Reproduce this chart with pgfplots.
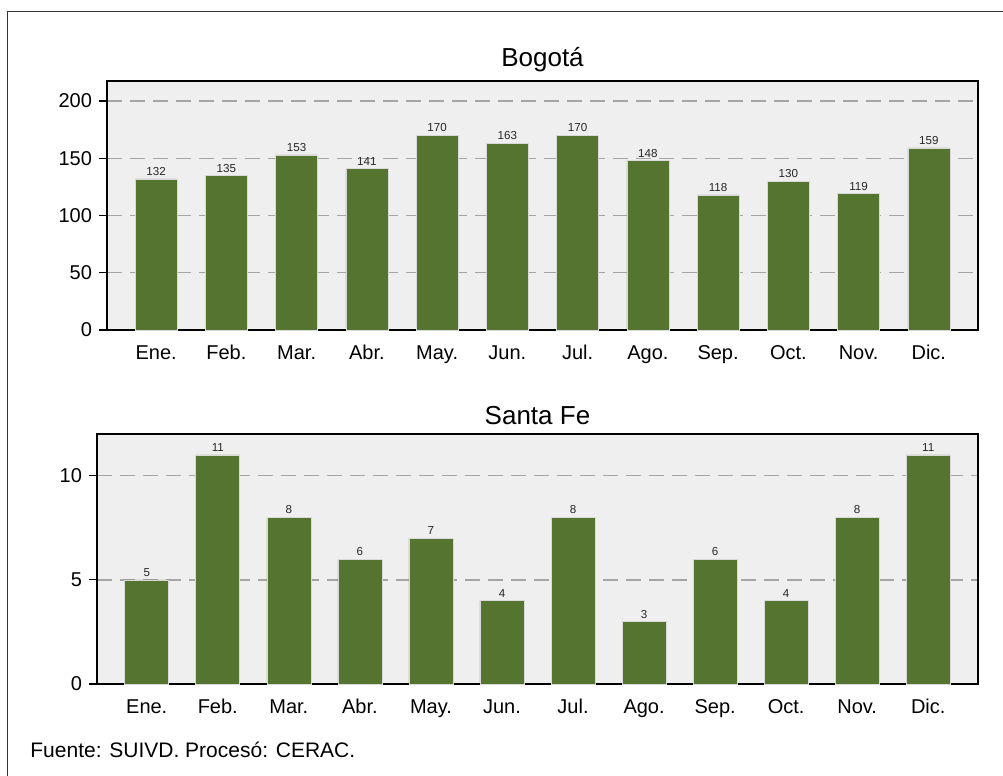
\documentclass[border=0pt]{standalone}
\usepackage{fontspec}
\setmainfont{Liberation Sans}
\usepackage{pgfplots}
\pgfplotsset{compat=1.18}
\definecolor{barg}{RGB}{85,116,47}
\definecolor{panel}{RGB}{239,239,239}
\definecolor{gridg}{RGB}{165,165,165}

\pgfplotsset{
  panel/.style={
    scale only axis,
    axis background/.style={fill=panel},
    ybar,
    xmin=-0.7, xmax=11.7, ymin=0,
    xtick={0,...,11},
    xticklabels={Ene.,Feb.,Mar.,Abr.,May.,Jun.,Jul.,Ago.,Sep.,Oct.,Nov.,Dic.},
    x tick style={draw=none},
    ytick align=outside, ytick pos=left,
    major tick length=4pt,
    y tick style={black, line width=0.6pt},
    ymajorgrids,
    grid style={gridg, dash pattern=on 7.5pt off 4pt, line width=0.7pt},
    axis line style={black, line width=0.8pt},
    tick label style={font=\fontsize{10}{12}\selectfont},
    xticklabel style={text height=7.2pt, text depth=2pt, yshift=0pt},
    /pgf/number format/assume math mode=true,
    nodes near coords,
    nodes near coords style={font=\fontsize{5.8}{7}\selectfont, text=black!85, inner sep=1.5pt},
    title style={font=\fontsize{13}{15}\selectfont, yshift=-5pt},
  },
}

\begin{document}
\begin{tikzpicture}
\useasboundingbox (0pt,0pt) rectangle (501.5pt,-388pt);
\draw[black!80, line width=0.5pt] (3.5pt,-410pt) -- (3.5pt,-5.5pt) -- (520pt,-5.5pt);

\begin{axis}[panel,
  at={(53.5pt,-165pt)}, anchor=south west,
  width=435.5pt, height=124.5pt,
  bar width=21pt,
  ymax=217.5, ytick={0,50,100,150,200},
  title={Bogotá}]
\addplot[fill=barg, draw=black!15, line width=0.3pt] coordinates {
  (0,132) (1,135) (2,153) (3,141) (4,170) (5,163)
  (6,170) (7,148) (8,118) (9,130) (10,119) (11,159)
};
\end{axis}

\begin{axis}[panel,
  at={(48.5pt,-342pt)}, anchor=south west,
  width=440.5pt, height=125pt,
  bar width=22pt,
  ymax=12, ytick={0,5,10},
  title={Santa Fe}]
\addplot[fill=barg, draw=black!15, line width=0.3pt] coordinates {
  (0,5) (1,11) (2,8) (3,6) (4,7) (5,4)
  (6,8) (7,3) (8,6) (9,4) (10,8) (11,11)
};
\end{axis}

\node[anchor=west, font=\fontsize{10.5}{12}\selectfont, inner sep=0pt] at (15pt,-375pt) {Fuente: SUIVD. Procesó: CERAC.};
\end{tikzpicture}
\end{document}
